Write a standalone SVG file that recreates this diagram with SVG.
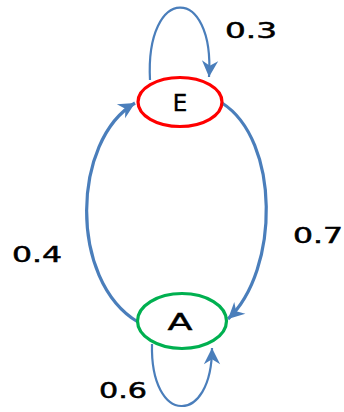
<svg xmlns="http://www.w3.org/2000/svg" width="344" height="412" viewBox="0 0 344 412">
<style>
.lbl{font-family:"DejaVu Sans","Liberation Sans",sans-serif;font-size:21px;fill:#000;stroke:#000;stroke-width:0.5}
.nl{font-family:"DejaVu Sans","Liberation Sans",sans-serif;font-size:23px;fill:#000;stroke:#000;stroke-width:0.4;text-anchor:middle}
.e{fill:#fff;stroke-width:3.2}
.arc{fill:none;stroke:#4A7EBB;stroke-width:3.2}
.loop{fill:none;stroke:#4A7EBB;stroke-width:2.2}
</style>
<defs>
<marker id="ah" markerUnits="userSpaceOnUse" markerWidth="20" markerHeight="20" viewBox="-14 -8 16 16" refX="0" refY="0" orient="auto">
<path d="M0,0 L-13,-6.5 L-9,0 L-13,6.5 Z" fill="#4A7EBB"/>
</marker>
</defs>
<g id="connectors">
<path class="arc" d="M222,103 C280,140 280,270 228,319" marker-end="url(#ah)"/>
<path class="arc" d="M138,322 C68,280 72,140 135,103" marker-end="url(#ah)"/>
<path class="loop" d="M150,80 C145,-16 215,-16 209,77" marker-end="url(#ah)"/>
<path class="loop" d="M152,344 C150,426 212,426 212,348" marker-end="url(#ah)"/>
</g>
<g id="node-E">
<ellipse class="e" cx="180" cy="102" rx="42" ry="24.5" stroke="#FF0000"/>
<text class="nl" x="180" y="111">E</text>
</g>
<g id="node-A">
<ellipse class="e" cx="182" cy="321" rx="44.5" ry="27.5" stroke="#00B050"/>
<text class="nl" x="180" y="330" textLength="25" lengthAdjust="spacingAndGlyphs">A</text>
</g>
<g id="labels">
<text class="lbl" x="225" y="38" textLength="52" lengthAdjust="spacingAndGlyphs">0.3</text>
<text class="lbl" x="293" y="243" textLength="50" lengthAdjust="spacingAndGlyphs">0.7</text>
<text class="lbl" x="12" y="262" textLength="50" lengthAdjust="spacingAndGlyphs">0.4</text>
<text class="lbl" x="99" y="398" textLength="48" lengthAdjust="spacingAndGlyphs">0.6</text>
</g>
</svg>
